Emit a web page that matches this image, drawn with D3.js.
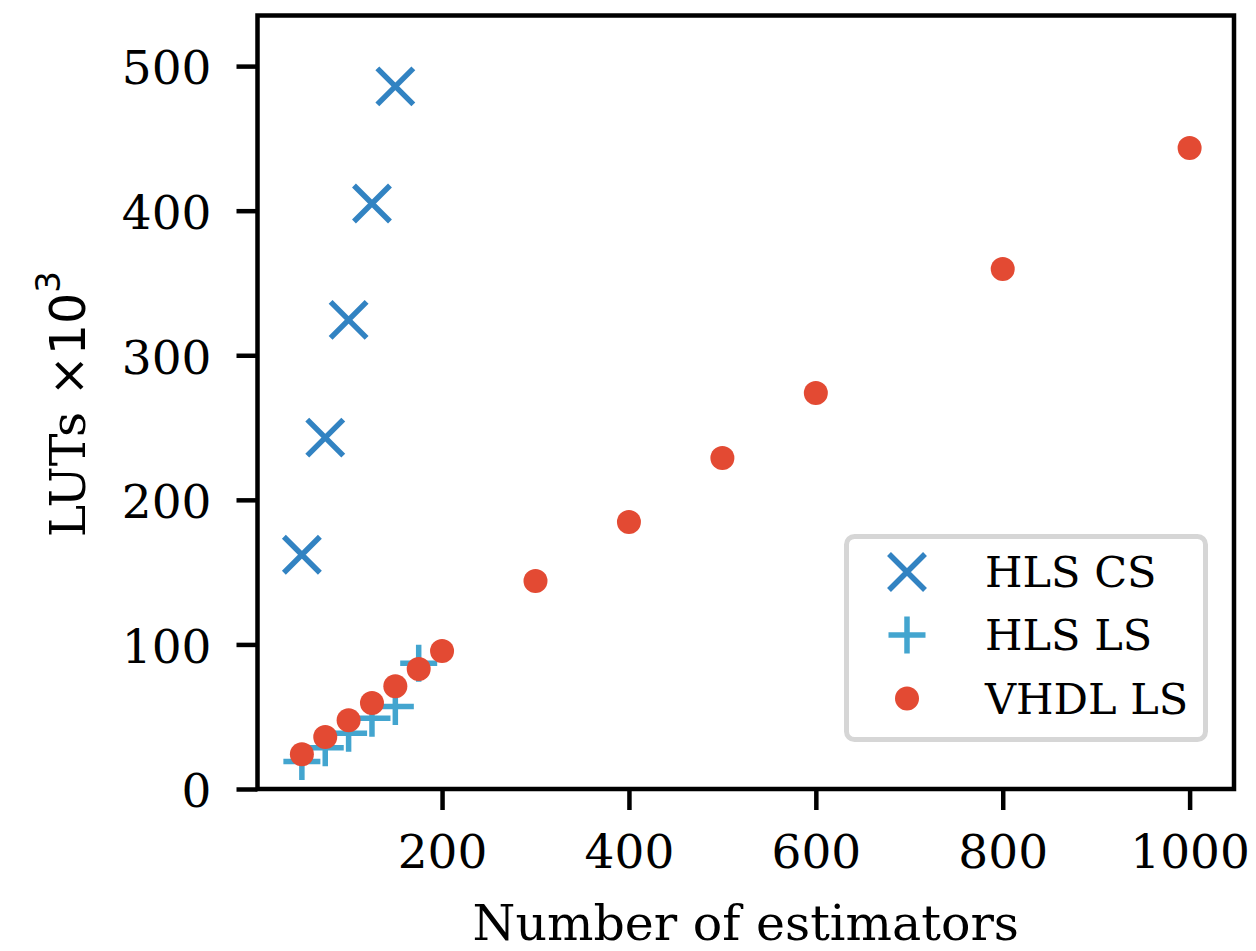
<!DOCTYPE html>
<html>
<head>
<meta charset="utf-8">
<script src="https://cdn.jsdelivr.net/npm/d3@7"></script>
<style>
  html, body { margin: 0; padding: 0; background: #fff; }
  svg { display: block; }
</style>
</head>
<body>
<svg id="chart" width="1256" height="951"></svg>
<script>
// LUT usage versus number of estimators for three implementations
const csEstimators = [50, 75, 100, 125, 150];
const csLuts = [162, 243, 324.5, 405, 486];

const lsEstimators = [50, 75, 100, 125, 150, 175];
const lsLuts = [19, 28.5, 38.5, 49, 57, 87];

const vhdlEstimators = [50, 75, 100, 125, 150, 175, 200, 300, 400, 500, 600, 800, 1000];
const vhdlLuts = [24, 36, 47.5, 59.5, 71, 83, 95.5, 143.8, 184.6, 228.9, 273.9, 359.6, 443.4];

const xTicks = [200, 400, 600, 800, 1000];
const yTicks = [0, 100, 200, 300, 400, 500];
const seriesNames = ["HLS CS", "HLS LS", "VHDL LS"];

const colors = { cs: "#3283c2", ls: "#43a5cf", vhdl: "#e34a33" };

const svg = d3.select("#chart");
const plotLeft = 257.5, plotRight = 1234, plotTop = 15.5, plotBottom = 789;

const x = d3.scaleLinear().domain([2.5, 1047.5]).range([plotLeft, plotRight]);
const y = d3.scaleLinear().domain([0, 535]).range([plotBottom, plotTop]);

const serif = "'DejaVu Serif', serif";

// axes
const xAxis = svg.append("g")
  .attr("transform", `translate(0,${plotBottom})`)
  .call(d3.axisBottom(x).tickValues(xTicks).tickSize(21).tickPadding(25).tickFormat(d3.format("d")));
const yAxis = svg.append("g")
  .attr("transform", `translate(${plotLeft},0)`)
  .call(d3.axisLeft(y).tickValues(yTicks).tickSize(21).tickPadding(25).tickFormat(d3.format("d")));

[xAxis, yAxis].forEach(g => {
  g.select(".domain").remove();
  g.selectAll(".tick line").attr("stroke", "#000").attr("stroke-width", 4.5);
  g.selectAll(".tick text")
    .attr("fill", "#000")
    .style("font-family", serif)
    .style("font-size", "47px");
});
yAxis.selectAll(".tick text").attr("dy", "0.38em");

// plot frame
svg.append("rect")
  .attr("x", plotLeft).attr("y", plotTop)
  .attr("width", plotRight - plotLeft).attr("height", plotBottom - plotTop)
  .attr("fill", "none").attr("stroke", "#000").attr("stroke-width", 4.5);

// marker paths
const xArm = 18, pArm = 18.5;
const crossPath = `M${-xArm},${-xArm}L${xArm},${xArm}M${-xArm},${xArm}L${xArm},${-xArm}`;
const plusPath = `M${-pArm},0L${pArm},0M0,${-pArm}L0,${pArm}`;

const plot = svg.append("g");

plot.append("g").selectAll("path")
  .data(d3.zip(csEstimators, csLuts))
  .join("path")
  .attr("transform", d => `translate(${x(d[0])},${y(d[1])})`)
  .attr("d", crossPath)
  .attr("stroke", colors.cs).attr("stroke-width", 5.5).attr("fill", "none");

plot.append("g").selectAll("path")
  .data(d3.zip(lsEstimators, lsLuts))
  .join("path")
  .attr("transform", d => `translate(${x(d[0])},${y(d[1])})`)
  .attr("d", plusPath)
  .attr("stroke", colors.ls).attr("stroke-width", 5.5).attr("fill", "none");

plot.append("g").selectAll("circle")
  .data(d3.zip(vhdlEstimators, vhdlLuts))
  .join("circle")
  .attr("cx", d => x(d[0])).attr("cy", d => y(d[1]))
  .attr("r", 12)
  .attr("fill", colors.vhdl);

// axis titles
svg.append("text")
  .attr("x", (plotLeft + plotRight) / 2).attr("y", 940)
  .attr("text-anchor", "middle")
  .style("font-family", serif).style("font-size", "49px")
  .text("Number of estimators");

const yTitle = svg.append("text")
  .attr("transform", `translate(85,${(plotTop + plotBottom) / 2 + 2}) rotate(-90)`)
  .attr("text-anchor", "middle")
  .style("font-family", serif).style("font-size", "49px");
yTitle.append("tspan").text("LUTs ");
yTitle.append("tspan").style("font-family", "'DejaVu Sans', sans-serif").text("×10");
yTitle.append("tspan").style("font-family", "'DejaVu Sans', sans-serif")
  .style("font-size", "34px").attr("dy", "-0.75em").text("3");

// legend
const legend = svg.append("g");
legend.append("rect")
  .attr("x", 846.5).attr("y", 536.5).attr("width", 359).attr("height", 203)
  .attr("rx", 8).attr("ry", 8)
  .attr("fill", "#fff").attr("fill-opacity", 0.8)
  .attr("stroke", "#d6d6d6").attr("stroke-width", 5);

const rowY = [572, 635, 698.5];
const mx = 907;
legend.append("path")
  .attr("transform", `translate(${mx},${rowY[0]})`)
  .attr("d", crossPath)
  .attr("stroke", colors.cs).attr("stroke-width", 5.5).attr("fill", "none");
legend.append("path")
  .attr("transform", `translate(${mx},${rowY[1]})`)
  .attr("d", plusPath)
  .attr("stroke", colors.ls).attr("stroke-width", 5.5).attr("fill", "none");
legend.append("circle")
  .attr("cx", mx).attr("cy", rowY[2]).attr("r", 12)
  .attr("fill", colors.vhdl);

legend.selectAll("text.lbl")
  .data(seriesNames)
  .join("text")
  .attr("class", "lbl")
  .attr("x", 985).attr("y", (d, i) => rowY[i])
  .attr("dy", "0.36em")
  .style("font-family", serif).style("font-size", "43px")
  .text(d => d);
</script>
</body>
</html>
